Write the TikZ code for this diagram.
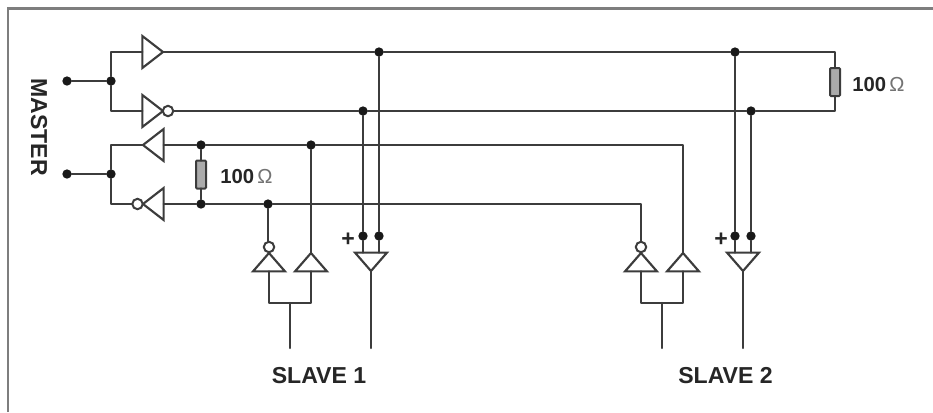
\documentclass[tikz,border=0pt]{standalone}
\usepackage{fontspec}
\setmainfont{Liberation Sans}
\usetikzlibrary{shapes.geometric}
\definecolor{ink}{HTML}{3C3C3C}
\definecolor{framegray}{HTML}{7E7E7E}
\definecolor{resfill}{HTML}{ABABAB}
\tikzset{
  wire/.style={draw=ink,line width=1.75pt,line cap=round,line join=round},
  gatebox/.style={isosceles triangle,isosceles triangle stretches,shape border rotate=#1,
    minimum width=24pt,minimum height=15.5pt,inner sep=0pt,outer sep=0pt,draw=ink,line width=1.6pt,fill=white,line join=miter},
  vgate/.style={gatebox=#1,minimum height=13.8pt},
  bubble/.style={circle,draw=ink,line width=1.5pt,fill=white,minimum size=7.8pt,inner sep=0pt,outer sep=0pt},
  dotmark/.style={circle,fill=black!90,minimum size=7pt,inner sep=0pt,outer sep=0pt},
  resbox/.style={rectangle,draw=ink,line width=1.5pt,fill=resfill,minimum width=7.5pt,minimum height=21pt,inner sep=0pt,outer sep=0pt,rounded corners=0.8pt},
  boldtext/.style={font=\fontsize{17.3pt}{18pt}\selectfont\bfseries,text=black!85,inner sep=0pt},
  valtext/.style={font=\fontsize{15.2pt}{18pt}\selectfont,text=black!85,inner sep=0pt,anchor=west},
}
\begin{document}
\begin{tikzpicture}[x=0.75pt,y=-0.75pt]
\useasboundingbox (0,0) rectangle (933,412);
\fill[white] (0,0) rectangle (933,412);
% frame
\draw[framegray,line width=1.9pt] (8,412) -- (8,8.5) -- (933,8.5);

% master gates
\node[gatebox=0,anchor=apex] (txa) at (163,52) {};
\node[gatebox=0,anchor=apex] (txb) at (163,111) {};
\node[bubble] (txbb) at (168,111) {};
\node[gatebox=180,anchor=apex] (rxa) at (143,145) {};
\node[gatebox=180,anchor=apex] (rxb) at (143,204) {};
\node[bubble] (rxbb) at (137.5,204) {};

% master dots
\node[dotmark] (min1) at (67,81) {};
\node[dotmark] (j1) at (111,81) {};
\node[dotmark] (min2) at (67,174) {};
\node[dotmark] (j2) at (111,174) {};
\coordinate (c1) at (111,52);
\coordinate (c2) at (111,111);
\coordinate (c3) at (111,145);
\coordinate (c4) at (111,204);

% bus dots
\node[dotmark] (a1) at (379,52) {};
\node[dotmark] (a2) at (735,52) {};
\node[dotmark] (b1) at (363,111) {};
\node[dotmark] (b2) at (751,111) {};
\node[dotmark] (c5) at (201,145) {};
\node[dotmark] (c6) at (311,145) {};
\node[dotmark] (d5) at (201,204) {};
\node[dotmark] (d6) at (268,204) {};

% resistors
\node[resbox] (r1) at (835,82) {};
\node[resbox] (r2) at (201,174.5) {};
\coordinate (k1) at (835,52);
\coordinate (k2) at (835,111);
\coordinate (k3) at (683,145);
\coordinate (k4) at (641,204);

% slave 1
\node[vgate=90,anchor=apex] (s1a) at (269,253) {};
\node[bubble] (s1b) at (269,247) {};
\node[vgate=90,anchor=apex] (s1c) at (311,253) {};
\node[vgate=-90,anchor=apex] (s1r) at (371,271) {};
\node[dotmark] (s1p) at (363,236) {};
\node[dotmark] (s1m) at (379,236) {};
\coordinate (s1l) at (269,303);
\coordinate (s1k) at (311,303);
\coordinate (s1t) at (290,303);
\coordinate (s1e) at (290,348);
\coordinate (s1o) at (371,348);

% slave 2
\node[vgate=90,anchor=apex] (s2a) at (641,253) {};
\node[bubble] (s2b) at (641,247) {};
\node[vgate=90,anchor=apex] (s2c) at (683,253) {};
\node[vgate=-90,anchor=apex] (s2r) at (743,271) {};
\node[dotmark] (s2p) at (735,236) {};
\node[dotmark] (s2m) at (751,236) {};
\coordinate (s2l) at (641,303);
\coordinate (s2k) at (683,303);
\coordinate (s2t) at (662,303);
\coordinate (s2e) at (662,348);
\coordinate (s2o) at (743,348);

% connectors
\draw[wire] (min1) -- (j1);
\draw[wire] (min2) -- (j2);
\draw[wire] (txa.lower side) -- (c1) -- (j1) -- (c2) -- (txb.lower side);
\draw[wire] (rxa.apex) -- (c3) -- (j2) -- (c4) -- (rxbb.west);
\draw[wire] (txa.apex) -- (a1) -- (a2) -- (k1) -- (r1.north);
\draw[wire] (r1.south) -- (k2) -- (b2) -- (b1) -- (txbb.east);
\draw[wire] (rxa.lower side) -- (c5) -- (c6) -- (k3) -- (s2c.apex);
\draw[wire] (rxb.lower side) -- (d5) -- (d6) -- (k4) -- (s2b.north);
\draw[wire] (c5) -- (r2.north);
\draw[wire] (r2.south) -- (d5);

\draw[wire] (d6) -- (d6 |- s1b.north);
\draw[wire] (c6) -- (s1c.apex);
\draw[wire] (a1) -- (s1m);
\draw[wire] (b1) -- (s1p);
\draw[wire] (s1p) -- (s1p |- s1r.lower side);
\draw[wire] (s1m) -- (s1m |- s1r.lower side);
\draw[wire] (s1r.apex) -- (s1o);
\draw[wire] (s1a.lower side) -- (s1l) -- (s1k) -- (s1c.lower side);
\draw[wire] (s1t) -- (s1e);

\draw[wire] (a2) -- (s2p);
\draw[wire] (b2) -- (s2m);
\draw[wire] (s2p) -- (s2p |- s2r.lower side);
\draw[wire] (s2m) -- (s2m |- s2r.lower side);
\draw[wire] (s2r.apex) -- (s2o);
\draw[wire] (s2a.lower side) -- (s2l) -- (s2k) -- (s2c.lower side);
\draw[wire] (s2t) -- (s2e);

% labels
\node[boldtext,rotate=-90] (lm) at (39,127) {MASTER};
\node[boldtext] (ls1) at (319,376) {SLAVE 1};
\node[boldtext] (ls2) at (725.5,376) {SLAVE 2};
\node[valtext] (v1) at (220,176.5) {\textbf{100}\,{\color{black!55}Ω}};
\node[valtext] (v2) at (852,84.5) {\textbf{100}\,{\color{black!55}Ω}};
\node[boldtext] (p1) at (348,240) {+};
\node[boldtext] (p2) at (721,240) {+};
\end{tikzpicture}
\end{document}
